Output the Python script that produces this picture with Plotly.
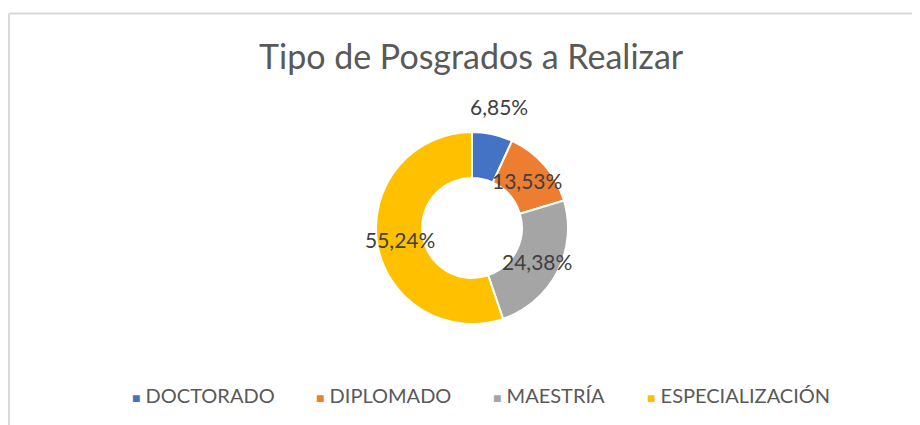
import math
import plotly.graph_objects as go

categories = ["DOCTORADO", "DIPLOMADO", "MAESTRÍA", "ESPECIALIZACIÓN"]
values = [6.85, 13.53, 24.38, 55.24]
colors = ["#4472C4", "#ED7D31", "#A5A5A5", "#FFC000"]
label_radius = [1.3, 0.76, 0.76, 0.76]  # fraction of outer radius
legend_x = [130, 314, 491, 645]  # legend entry left edges (px)

W, H = 920, 425
OFF = 8  # page body margin
CX, CY, R = 472, 228, 96  # donut center / radius in px (page coords)

FONT = "Lato, 'Open Sans', sans-serif"


def px2x(px):
    return (px - OFF) / W


def py2y(py):
    return 1 - (py - OFF) / H


fig = go.Figure()
fig.add_trace(go.Pie(
    labels=categories,
    values=values,
    hole=0.52,
    sort=False,
    direction="clockwise",
    rotation=0,
    marker=dict(colors=colors, line=dict(color="white", width=2)),
    textinfo="none",
    hoverinfo="label+percent",
    showlegend=False,
    domain=dict(x=[px2x(CX - R), px2x(CX + R)], y=[py2y(CY + R), py2y(CY - R)]),
))

total = sum(values)
cum = 0
annotations = []
for v, rf in zip(values, label_radius):
    ang = 2 * math.pi * (cum + v / 2) / total
    cum += v
    px = CX + rf * R * math.sin(ang)
    py = CY - rf * R * math.cos(ang)
    annotations.append(dict(
        x=px2x(px), y=py2y(py), xref="paper", yref="paper",
        text=f"{v:.2f}%".replace(".", ","), showarrow=False,
        font=dict(family=FONT, size=21, color="#404040"),
        xanchor="center", yanchor="middle",
    ))

# title
annotations.append(dict(
    x=px2x(471), y=py2y(56), xref="paper", yref="paper",
    text="Tipo de Posgrados a Realizar", showarrow=False,
    font=dict(family=FONT, size=34, color="#595959"),
    xanchor="center", yanchor="middle",
))

# legend
for cat, col, lx in zip(categories, colors, legend_x):
    annotations.append(dict(
        x=px2x(lx), y=py2y(395), xref="paper", yref="paper",
        text=f'<span style="color:{col};font-size:14px">■</span> {cat}', showarrow=False,
        font=dict(family=FONT, size=20, color="#595959"),
        xanchor="left", yanchor="middle",
    ))

fig.update_layout(
    width=W, height=H,
    margin=dict(l=0, r=0, t=0, b=0),
    paper_bgcolor="white",
    showlegend=False,
    annotations=annotations,
    shapes=[
        dict(type="line", xref="paper", yref="paper", x0=px2x(9), x1=1, y0=py2y(13.5), y1=py2y(13.5),
             line=dict(color="#D9D9D9", width=2)),
        dict(type="line", xref="paper", yref="paper", x0=px2x(9), x1=px2x(9), y0=0, y1=py2y(13.5),
             line=dict(color="#D9D9D9", width=2)),
    ],
)

fig.write_html("out.html")
